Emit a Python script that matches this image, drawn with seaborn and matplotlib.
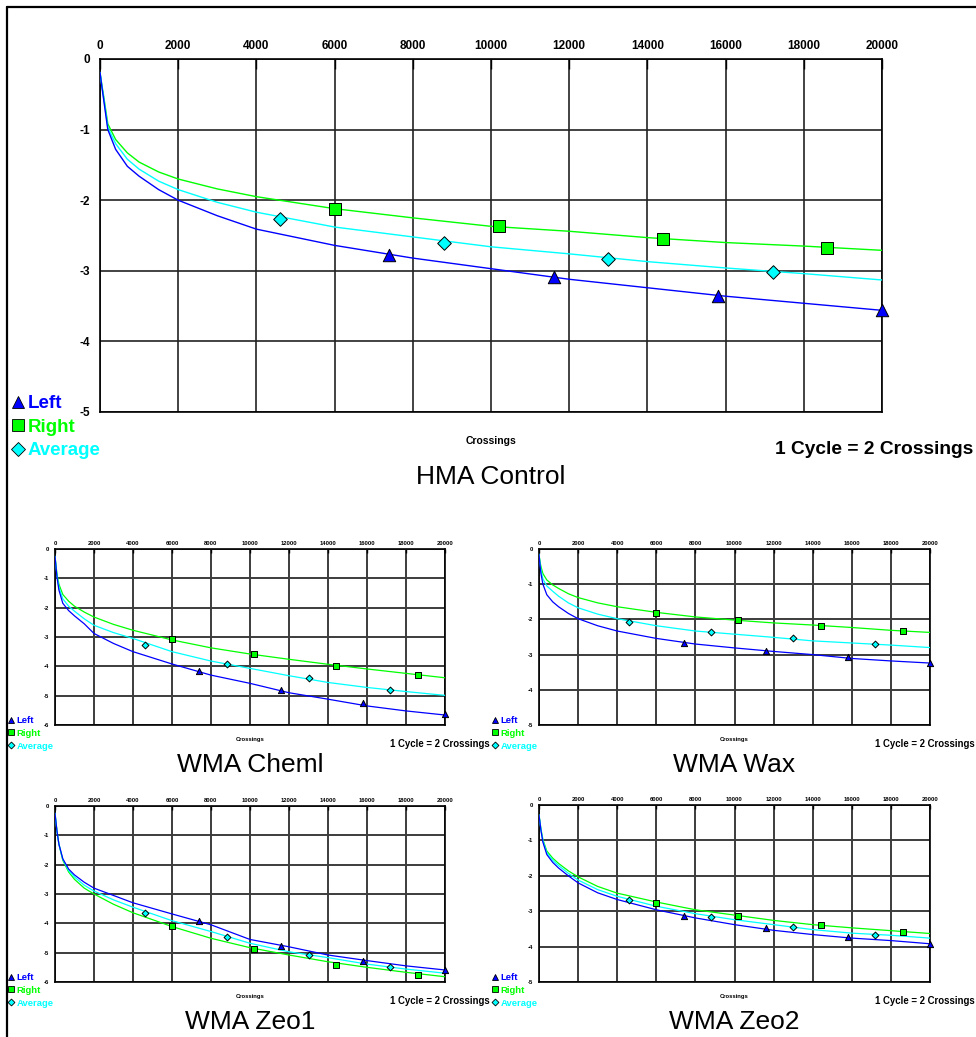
#!/usr/bin/env python3
"""
Wear curves (HMA control vs. WMA mixes) - left / right / average wheel path.
"""

import matplotlib
matplotlib.use("Agg")
import matplotlib.pyplot as plt
from matplotlib.lines import Line2D
import seaborn as sns

CROSSINGS = [0, 50, 100, 200, 400, 700, 1000, 1500, 2000, 3000, 4000,
             6000, 8000, 10000, 12000, 14000, 16000, 18000, 20000]

# marker positions (crossings)
LEFT_MX = [7400, 11600, 15800, 20000]
RIGHT_MX = [6000, 10200, 14400, 18600]
AVG_MX = [4600, 8800, 13000, 17200]

# --- HMA Control ---
hma_left = [-0.19, -0.40, -0.60, -1.00, -1.28, -1.52, -1.66, -1.85, -2.00, -2.22, -2.41,
            -2.64, -2.82, -2.97, -3.12, -3.24, -3.36, -3.46, -3.56]
hma_right = [-0.19, -0.38, -0.55, -0.92, -1.14, -1.33, -1.46, -1.60, -1.70, -1.84, -1.95,
             -2.12, -2.25, -2.37, -2.44, -2.53, -2.60, -2.65, -2.71]
hma_avg = [-0.19, -0.39, -0.57, -0.97, -1.20, -1.42, -1.56, -1.73, -1.85, -2.03, -2.17,
           -2.38, -2.52, -2.66, -2.76, -2.87, -2.96, -3.04, -3.13]
hma_left_pts = [-2.77, -3.09, -3.35, -3.56]
hma_right_pts = [-2.12, -2.37, -2.55, -2.67]
hma_avg_pts = [-2.26, -2.60, -2.83, -3.02]

# --- WMA Cheml ---
chem_left = [-0.25, -0.60, -0.95, -1.40, -1.85, -2.10, -2.28, -2.55, -2.88, -3.22, -3.50,
             -3.92, -4.30, -4.58, -4.90, -5.12, -5.35, -5.52, -5.66]
chem_right = [-0.25, -0.55, -0.85, -1.20, -1.55, -1.78, -1.95, -2.15, -2.32, -2.57, -2.77,
              -3.10, -3.37, -3.58, -3.76, -3.93, -4.09, -4.24, -4.39]
chem_avg = [-0.25, -0.57, -0.90, -1.30, -1.70, -1.95, -2.12, -2.38, -2.60, -2.85, -3.05,
            -3.50, -3.82, -4.07, -4.32, -4.55, -4.72, -4.86, -4.99]
chem_left_pts = [-4.16, -4.81, -5.24, -5.63]
chem_right_pts = [-3.08, -3.58, -3.99, -4.31]
chem_avg_pts = [-3.27, -3.91, -4.39, -4.80]

# --- WMA Wax ---
wax_left = [-0.15, -0.45, -0.70, -1.00, -1.30, -1.50, -1.64, -1.83, -1.98, -2.18, -2.33,
            -2.54, -2.70, -2.81, -2.91, -3.00, -3.11, -3.18, -3.24]
wax_right = [-0.15, -0.35, -0.50, -0.70, -0.88, -1.02, -1.12, -1.27, -1.38, -1.53, -1.64,
             -1.80, -1.93, -2.02, -2.10, -2.16, -2.23, -2.31, -2.37]
wax_avg = [-0.15, -0.40, -0.60, -0.85, -1.05, -1.20, -1.34, -1.53, -1.67, -1.85, -1.98,
           -2.18, -2.33, -2.42, -2.51, -2.61, -2.67, -2.73, -2.80]
wax_left_pts = [-2.66, -2.89, -3.08, -3.23]
wax_right_pts = [-1.81, -2.03, -2.19, -2.33]
wax_avg_pts = [-2.06, -2.35, -2.52, -2.71]

# --- WMA Zeo1 ---
zeo1_left = [-0.25, -0.55, -0.85, -1.30, -1.80, -2.15, -2.35, -2.60, -2.80, -3.05, -3.30,
             -3.68, -4.05, -4.55, -4.80, -5.08, -5.27, -5.45, -5.59]
zeo1_right = [-0.25, -0.55, -0.85, -1.30, -1.85, -2.25, -2.50, -2.80, -3.00, -3.35, -3.64,
              -4.11, -4.51, -4.83, -5.08, -5.31, -5.50, -5.67, -5.82]
zeo1_avg = [-0.25, -0.55, -0.85, -1.30, -1.82, -2.20, -2.42, -2.70, -2.90, -3.20, -3.45,
            -3.91, -4.28, -4.68, -4.97, -5.17, -5.39, -5.56, -5.70]
zeo1_left_pts = [-3.91, -4.77, -5.27, -5.58]
zeo1_right_pts = [-4.09, -4.86, -5.41, -5.76]
zeo1_avg_pts = [-3.64, -4.48, -5.08, -5.50]

# --- WMA Zeo2 ---
zeo2_left = [-0.28, -0.50, -0.72, -1.05, -1.40, -1.62, -1.78, -2.00, -2.20, -2.48, -2.67,
             -2.96, -3.19, -3.38, -3.54, -3.66, -3.76, -3.83, -3.92]
zeo2_right = [-0.28, -0.48, -0.68, -0.98, -1.30, -1.50, -1.65, -1.86, -2.03, -2.30, -2.49,
              -2.74, -2.96, -3.11, -3.26, -3.38, -3.47, -3.55, -3.63]
zeo2_avg = [-0.28, -0.49, -0.70, -1.01, -1.35, -1.56, -1.71, -1.93, -2.12, -2.39, -2.58,
            -2.86, -3.07, -3.24, -3.38, -3.52, -3.62, -3.68, -3.76]
zeo2_left_pts = [-3.14, -3.48, -3.73, -3.93]
zeo2_right_pts = [-2.76, -3.14, -3.40, -3.59]
zeo2_avg_pts = [-2.68, -3.15, -3.44, -3.66]

BLUE, GREEN, CYAN = '#0000FF', '#00FF00', '#00FFFF'
W, H = 976, 1037


def fx(px):
    return px / W


def fy(py):
    return 1 - py / H


def draw_panel(fig, box, ymin, series, title, big):
    """box = (left, top, right, bottom) in pixels."""
    l, t, r, b = box
    ax = fig.add_axes([fx(l), fy(b), fx(r - l), (b - t) / H])

    # scale of everything depends on panel size
    tick_fs = 8.5 if big else 4.2
    lw = 1.0 if big else 0.9
    ms = 80 if big else 20
    grid_c = '#222222' if big else '#3c3c3c'
    grid_lw = 1.2 if big else 1.4

    (left, right, avg, lpts, rpts, apts) = series
    for vals, col in [(right, GREEN), (avg, CYAN), (left, BLUE)]:
        sns.lineplot(x=CROSSINGS, y=vals, ax=ax, color=col, linewidth=lw,
                     sort=False, estimator=None, zorder=3)
    sns.scatterplot(x=AVG_MX, y=apts, ax=ax, marker='D', s=ms * 0.6, color=CYAN,
                    edgecolor='black', linewidth=0.7, zorder=5, clip_on=False)
    sns.scatterplot(x=RIGHT_MX, y=rpts, ax=ax, marker='s', s=ms, color=GREEN,
                    edgecolor='black', linewidth=0.7, zorder=5, clip_on=False)
    sns.scatterplot(x=LEFT_MX, y=lpts, ax=ax, marker='^', s=ms, color=BLUE,
                    edgecolor='black', linewidth=0.7, zorder=5, clip_on=False)

    ax.set_xlim(0, 20000)
    ax.set_ylim(ymin, 0)
    ax.set_xticks(range(0, 20001, 2000))
    ax.set_yticks(range(ymin, 1))
    ax.xaxis.tick_top()
    ax.tick_params(axis='x', direction='in', length=7 if big else 3, width=1,
                   pad=5 if big else 2.5, labelsize=tick_fs)
    ax.tick_params(axis='y', direction='out', length=5 if big else 3, width=1,
                   pad=2 if big else 1, labelsize=tick_fs)
    for lab in ax.get_xticklabels() + ax.get_yticklabels():
        lab.set_fontweight('bold')
    ax.grid(True, color=grid_c, linewidth=grid_lw)
    ax.set_axisbelow(True)
    for sp in ax.spines.values():
        sp.set_color('black')
        sp.set_linewidth(1.2)
    ax.set_xlabel('')
    ax.set_ylabel('')

    # "Crossings" caption under the plot area
    ax.text(0.5, -0.082, 'Crossings', transform=ax.transAxes,
            ha='center', va='center', fontsize=7.5 if big else 4.2, fontweight='bold')

    # legend at the lower left
    handles = [
        Line2D([], [], ls='', marker='^', color=BLUE, mec='black', mew=0.6,
               ms=9 if big else 4.5),
        Line2D([], [], ls='', marker='s', color=GREEN, mec='black', mew=0.6,
               ms=9 if big else 4.5),
        Line2D([], [], ls='', marker='D', color=CYAN, mec='black', mew=0.6,
               ms=7 if big else 3.5),
    ]
    leg_fs = 13.5 if big else 6.8
    lx = 11 if big else l - 47
    ly = 395 if big else b - 9
    leg = ax.legend(handles, ['Left', 'Right', 'Average'], loc='upper left',
                    bbox_to_anchor=(fx(lx), fy(ly)), bbox_transform=fig.transFigure,
                    frameon=False, prop={'weight': 'bold', 'size': leg_fs},
                    handlelength=0.7, handletextpad=0.2,
                    labelspacing=0.34 if big else 0.4,
                    borderpad=0, borderaxespad=0)
    for txt, col in zip(leg.get_texts(), [BLUE, GREEN, CYAN]):
        txt.set_color(col)

    # cycle note and title
    if big:
        fig.text(fx(973), fy(450), '1 Cycle = 2 Crossings', ha='right', va='center',
                 fontsize=13.8, fontweight='bold')
        fig.text(fx((l + r) / 2), fy(477), title, ha='center', va='center', fontsize=19)
    else:
        fig.text(fx(r + 45), fy(b + 19), '1 Cycle = 2 Crossings', ha='right',
                 va='center', fontsize=6.9, fontweight='bold')
        fig.text(fx((l + r) / 2), fy(b + 40), title, ha='center', va='center', fontsize=19)
    return ax


def main():
    sns.set_style('white')
    plt.rcParams['font.family'] = ['Liberation Sans', 'DejaVu Sans']
    plt.rcParams['axes.unicode_minus'] = False
    for key in ['text.color', 'axes.labelcolor', 'xtick.color', 'ytick.color']:
        plt.rcParams[key] = 'black'

    fig = plt.figure(figsize=(W / 100, H / 100), dpi=100)

    draw_panel(fig, (100, 59, 882, 412), -5,
               (hma_left, hma_right, hma_avg, hma_left_pts, hma_right_pts, hma_avg_pts),
               'HMA Control', True)
    draw_panel(fig, (55, 549, 445, 725), -6,
               (chem_left, chem_right, chem_avg, chem_left_pts, chem_right_pts, chem_avg_pts),
               'WMA Cheml', False)
    draw_panel(fig, (539, 549, 930, 725), -5,
               (wax_left, wax_right, wax_avg, wax_left_pts, wax_right_pts, wax_avg_pts),
               'WMA Wax', False)
    draw_panel(fig, (55, 806, 445, 982), -6,
               (zeo1_left, zeo1_right, zeo1_avg, zeo1_left_pts, zeo1_right_pts, zeo1_avg_pts),
               'WMA Zeo1', False)
    draw_panel(fig, (539, 805, 930, 982), -5,
               (zeo2_left, zeo2_right, zeo2_avg, zeo2_left_pts, zeo2_right_pts, zeo2_avg_pts),
               'WMA Zeo2', False)

    # outer frame (only left and top edges are visible in the picture)
    fig.add_artist(Line2D([fx(7), fx(7)], [0, fy(7)], color='black', lw=1.6))
    fig.add_artist(Line2D([fx(7), 1], [fy(7), fy(7)], color='black', lw=1.6))

    fig.savefig('out.png', dpi=100)
    plt.close(fig)


if __name__ == "__main__":
    main()
